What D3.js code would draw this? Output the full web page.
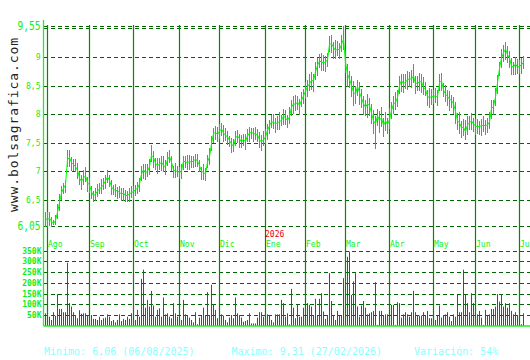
<!DOCTYPE html>
<html>
<head>
<meta charset="utf-8">
<script src="https://cdn.jsdelivr.net/npm/d3@7"></script>
<style>
  body { margin: 0; background: #fff; }
  svg { display: block; }
</style>
</head>
<body>
<div id="chart"></div>
<script>
// daily closes, first value is 31/07/2025, then Aug..Jul
var closes = [6.17,
  6.15,6.18,6.12,6.08,6.14,6.28,6.45,6.62,6.70,6.76,7.20,7.24,7.15,7.12,7.08,7.02,6.88,6.82,6.88,6.92,6.80,
  6.76,6.64,6.57,6.60,6.65,6.69,6.72,6.77,6.83,6.90,6.84,6.73,6.68,6.67,6.65,6.63,6.60,6.62,6.57,6.58,6.60,6.63,
  6.64,6.68,6.70,6.78,6.95,7.03,6.97,7.00,7.08,7.28,7.24,7.14,7.10,7.12,7.16,7.10,7.08,7.20,7.26,7.16,7.02,7.00,7.00,
  6.98,7.00,7.18,7.16,7.15,7.17,7.16,7.18,7.21,7.18,7.10,7.00,6.98,6.95,7.16,7.25,7.48,7.66,7.68,7.64,
  7.70,7.74,7.67,7.63,7.60,7.54,7.48,7.43,7.58,7.62,7.57,7.51,7.56,7.52,7.62,7.67,7.68,7.66,7.65,7.64,7.55,7.51,7.55,
  7.60,7.71,7.80,7.86,7.86,7.83,7.85,7.87,7.89,7.97,7.93,7.89,7.95,8.12,8.18,8.17,8.21,8.15,8.24,8.32,
  8.40,8.48,8.53,8.59,8.58,8.74,8.85,8.93,8.91,8.90,8.91,8.95,9.22,9.23,9.17,9.11,9.14,9.12,9.22,9.31,
  8.90,8.70,8.61,8.50,8.38,8.35,8.48,8.38,8.28,8.18,8.12,8.18,8.15,8.02,7.88,7.83,7.97,7.89,7.94,7.80,7.88,7.82,
  7.90,8.06,8.18,8.20,8.29,8.50,8.59,8.53,8.56,8.60,8.62,8.61,8.67,8.53,8.55,8.56,8.57,8.47,8.43,8.31,8.29,8.30,
  8.31,8.32,8.30,8.55,8.58,8.42,8.35,8.31,8.26,8.24,8.18,8.05,7.88,7.85,7.76,7.77,7.69,7.81,7.85,7.88,7.83,
  7.79,7.78,7.78,7.80,7.80,7.80,7.81,7.86,8.10,8.13,8.30,8.55,8.80,8.98,9.07,9.14,9.04,8.98,8.84,8.82,8.88,8.82,
  8.84,8.86,8.91];

// distance from close to the day's high / low, in cents
var hiGap = [12,
  14,10,8,6,10,14,16,12,10,8,18,14,10,10,14,12,10,12,14,16,10,
  12,10,8,10,12,10,14,12,10,12,10,12,8,10,8,12,10,8,10,8,10,12,
  10,8,12,10,14,10,16,12,14,18,12,10,14,12,10,16,12,14,12,10,8,14,10,
  10,12,8,10,14,12,10,8,10,12,10,8,14,10,12,16,14,10,12,14,
  12,10,14,12,10,8,10,14,12,10,8,12,10,14,12,10,8,10,12,10,14,12,16,
  14,12,10,12,14,10,12,16,10,12,14,10,18,12,14,16,10,12,14,12,
  16,12,18,14,12,18,14,12,16,14,10,12,14,16,10,18,14,12,16,24,
  22,18,14,16,20,14,12,18,16,14,12,18,14,16,20,14,12,16,18,14,16,12,
  20,16,14,18,14,16,12,18,14,16,12,16,20,14,12,16,14,18,14,12,16,14,
  12,14,12,16,14,12,16,12,14,10,12,16,14,18,12,14,20,16,12,14,10,
  12,14,10,12,16,10,12,18,14,12,16,14,12,16,14,12,16,12,14,10,12,14,
  10,12,10];

var loGap = [14,
  12,14,10,2,8,12,14,12,10,14,12,16,14,12,10,16,12,14,12,10,16,
  14,12,10,12,10,8,12,10,14,10,12,14,10,12,14,10,12,14,10,12,14,10,
  14,12,10,14,12,16,12,10,14,12,18,12,14,10,16,12,14,10,12,16,14,12,10,
  12,14,16,10,12,14,10,12,14,10,12,16,14,12,10,14,12,16,14,12,
  14,12,16,10,14,12,16,10,14,12,16,10,12,14,10,16,12,14,10,12,14,16,10,
  12,16,14,10,12,16,12,14,10,16,12,14,12,16,18,12,14,16,12,14,
  14,18,12,16,20,14,18,12,16,14,18,12,14,16,20,14,12,16,14,18,
  18,22,16,20,24,18,16,22,18,20,16,24,18,20,22,44,18,22,16,20,18,16,
  16,14,18,12,16,14,20,16,12,18,14,16,12,18,14,16,20,14,12,16,18,14,
  14,12,16,14,18,12,14,16,20,14,18,22,16,20,18,16,14,18,12,16,14,
  16,12,14,18,12,16,14,12,18,14,16,20,14,18,16,20,14,18,16,14,20,12,
  14,16,12];

// daily volume, thousands
var volumes = [59,
  43,43,28,64,47,148,79,79,64,64,293,106,90,64,51,36,73,57,59,59,51,
  70,51,33,33,28,43,28,36,39,54,43,23,28,17,28,54,23,33,28,43,33,59,
  51,28,75,43,219,261,85,121,90,163,95,43,75,82,43,132,54,59,43,36,106,59,43,
  54,28,121,54,51,39,28,17,64,8,39,48,85,51,157,51,191,101,75,36,
  98,54,48,28,17,39,51,36,132,59,51,39,20,23,28,59,12,12,12,39,64,64,43,
  48,54,51,28,17,54,54,54,121,106,43,59,8,172,85,36,98,43,43,85,
  129,106,98,90,48,126,48,126,152,67,33,51,245,116,51,28,70,51,51,222,
  207,321,345,144,207,245,90,43,95,116,85,54,59,64,70,203,5,70,70,51,54,54,
  70,98,98,5,110,106,39,54,64,54,43,64,163,64,51,48,48,64,51,70,36,36,
  54,28,48,95,39,51,54,64,43,23,54,43,144,64,64,261,144,106,64,152,106,
  64,54,70,39,5,75,48,54,79,79,90,148,113,148,90,106,85,106,70,54,64,51,
  39,8,59];

var months = ["Ago", "Sep", "Oct", "Nov", "Dic", "Ene", "Feb", "Mar", "Abr", "May", "Jun", "Jul"];
var monthDays = [21, 22, 23, 20, 23, 20, 20, 22, 22, 21, 22, 3];
var priceTicks = [9.55, 9.5, 9, 8.5, 8, 7.5, 7, 6.5, 6.05];
var volTicks = [50, 100, 150, 200, 250, 300, 350];

var W = 530, H = 360;
var left = 43.5, right = 530;
var mono = "'DejaVu Sans Mono', 'Liberation Mono', monospace";
var labelGreen = "#11ee11";
var gridGreen = "#006400";

var svg = d3.select("#chart").append("svg")
    .attr("width", W)
    .attr("height", H)
    .style("font-family", mono);

var x = d3.scaleLinear().domain([0, closes.length]).range([45.5, 45.5 + 2 * closes.length]);
var y = d3.scaleLinear().domain([6.05, 9.55]).range([225.5, 25.5]);
var yv = d3.scaleLinear().domain([0, 350]).range([326, 250.5]);

// first trading day of each month (index 0 is 31/07)
var starts = [];
var acc = 1;
monthDays.forEach(function(n) { starts.push(acc); acc += n; });

// price grid + labels
var gp = svg.append("g")
    .attr("transform", "translate(" + left + ",0)")
    .call(d3.axisLeft(y).tickValues(priceTicks)
        .tickSize(-(right - left)).tickPadding(3)
        .tickFormat(function(d) { return d === 9.5 ? "" : String(d).replace(".", ","); }));
gp.select(".domain").remove();
gp.selectAll(".tick line")
    .attr("stroke", gridGreen)
    .attr("stroke-dasharray", "4,3")
    .attr("shape-rendering", "crispEdges");
gp.selectAll(".tick text")
    .attr("fill", labelGreen)
    .style("font-family", mono)
    .style("font-size", function(d) { return (d === 9.55 || d === 6.05) ? "12px" : "8px"; })
    .each(function(d) {
        if (d === 9.55 || d === 6.05) {
            d3.select(this).attr("textLength", 23).attr("lengthAdjust", "spacingAndGlyphs");
        }
    });

// volume grid + labels
var gv = svg.append("g")
    .attr("transform", "translate(" + left + ",0)")
    .call(d3.axisLeft(yv).tickValues(volTicks)
        .tickSize(-(right - left)).tickPadding(2)
        .tickFormat(function(d) { return d + "K"; }));
gv.select(".domain").remove();
gv.selectAll(".tick line")
    .attr("stroke", gridGreen)
    .attr("stroke-dasharray", "4,3")
    .attr("shape-rendering", "crispEdges");
gv.selectAll(".tick text")
    .attr("fill", labelGreen)
    .style("font-family", mono)
    .style("font-size", "8px")
    .style("font-weight", "bold");

// month lines
svg.append("g").selectAll("line")
    .data(starts)
    .enter().append("line")
    .attr("x1", function(d) { return x(d); })
    .attr("x2", function(d) { return x(d); })
    .attr("y1", 25)
    .attr("y2", 326)
    .attr("stroke", "#008a00")
    .attr("stroke-width", 1.2);

// month labels
svg.append("g").selectAll("text")
    .data(starts)
    .enter().append("text")
    .attr("x", function(d) { return x(d) + 0.5; })
    .attr("y", 246.5)
    .attr("fill", labelGreen)
    .style("font-size", "8px")
    .text(function(d, i) { return months[i]; });

svg.append("text")
    .attr("x", x(starts[5]) - 0.5)
    .attr("y", 237)
    .attr("fill", "#ee0000")
    .style("font-size", "8px")
    .text("2026");

// high-low bars
svg.append("g").selectAll("line")
    .data(closes)
    .enter().append("line")
    .attr("x1", function(d, i) { return x(i); })
    .attr("x2", function(d, i) { return x(i); })
    .attr("y1", function(d, i) { return y(d + hiGap[i] / 100); })
    .attr("y2", function(d, i) { return y(d - loGap[i] / 100); })
    .attr("stroke", "#1fa6b2")
    .attr("stroke-width", 1)
    .attr("shape-rendering", "crispEdges");

// close line
svg.append("path")
    .datum(closes)
    .attr("fill", "none")
    .attr("stroke", "#00ff00")
    .attr("stroke-width", 1)
    .attr("d", d3.line()
        .x(function(d, i) { return x(i); })
        .y(function(d) { return y(d); }));

// volume bars
svg.append("g").selectAll("rect")
    .data(volumes)
    .enter().append("rect")
    .attr("x", function(d, i) { return x(i) - 0.5; })
    .attr("width", 1)
    .attr("y", function(d) { return yv(d); })
    .attr("height", function(d) { return yv(0) - yv(d); })
    .attr("fill", "#ff0000");

// left axis and volume base line
svg.append("line")
    .attr("x1", left).attr("x2", left)
    .attr("y1", 20).attr("y2", 326)
    .attr("stroke", "#22ee22")
    .attr("stroke-width", 1.3);
svg.append("line")
    .attr("x1", left).attr("x2", right)
    .attr("y1", 326).attr("y2", 326)
    .attr("stroke", "#22ee22")
    .attr("stroke-width", 1.3);

// watermark
svg.append("text")
    .attr("transform", "translate(18,212) rotate(-90)")
    .attr("fill", "#222")
    .style("font-size", "13px")
    .attr("textLength", 174)
    .attr("lengthAdjust", "spacing")
    .text("www.bolsagrafica.com");

// footer
var footer = [
    { x: 44, t: "Minimo: 6,06 (06/08/2025)" },
    { x: 231.5, t: "Maximo: 9,31 (27/02/2026)" },
    { x: 414, t: "Variación: 54%" }
];
svg.append("g").selectAll("text")
    .data(footer)
    .enter().append("text")
    .attr("x", function(d) { return d.x; })
    .attr("y", 355)
    .attr("fill", "#88ffff")
    .style("font-size", "10px")
    .text(function(d) { return d.t; });
</script>
</body>
</html>
